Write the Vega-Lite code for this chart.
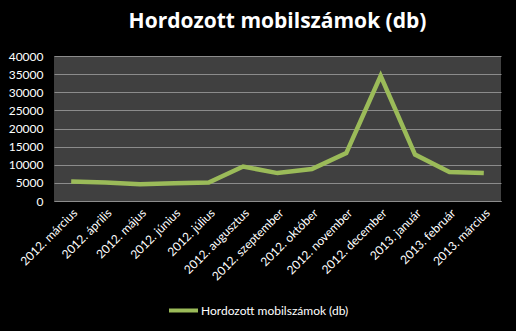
{
  "$schema": "https://vega.github.io/schema/vega-lite/v6.json",
  "autosize": {"type": "none"},
  "width": 447,
  "height": 145,
  "padding": {"left": 54, "top": 56, "right": 15, "bottom": 130},
  "background": "#000000",
  "title": {
    "text": "Hordozott mobilszámok (db)",
    "font": "Open Sans",
    "fontSize": 21,
    "fontWeight": "bold",
    "color": "#ffffff",
    "anchor": "middle",
    "frame": "group",
    "offset": 18
  },
  "config": {
    "view": {"fill": "#404040", "stroke": null},
    "font": "Lato"
  },
  "data": {
    "values": [
      {"honap": "2012. március", "db": 5400},
      {"honap": "2012. április", "db": 5100},
      {"honap": "2012. május", "db": 4600},
      {"honap": "2012. június", "db": 4900},
      {"honap": "2012. július", "db": 5100},
      {"honap": "2012. augusztus", "db": 9500},
      {"honap": "2012. szeptember", "db": 7700},
      {"honap": "2012. október", "db": 8800},
      {"honap": "2012. november", "db": 13200},
      {"honap": "2012. december", "db": 34500},
      {"honap": "2013. január", "db": 12800},
      {"honap": "2013. február", "db": 8000},
      {"honap": "2013. március", "db": 7700}
    ]
  },
  "mark": {"type": "line", "strokeWidth": 4.5, "strokeJoin": "miter"},
  "encoding": {
    "x": {
      "field": "honap",
      "type": "ordinal",
      "sort": null,
      "scale": {"type": "point", "padding": 0.5},
      "axis": {
        "title": null,
        "labelAngle": -45,
        "labelAlign": "right",
        "labelBaseline": "top",
        "labelColor": "#ffffff",
        "labelFontSize": 12,
        "labelPadding": 6,
        "ticks": false,
        "domainColor": "#8c8c8c",
        "domainWidth": 1,
        "grid": false
      }
    },
    "y": {
      "field": "db",
      "type": "quantitative",
      "scale": {"domain": [0, 40000], "nice": false},
      "axis": {
        "title": null,
        "values": [0, 5000, 10000, 15000, 20000, 25000, 30000, 35000, 40000],
        "format": "d",
        "labelColor": "#ffffff",
        "labelFontSize": 12,
        "labelPadding": 11,
        "ticks": false,
        "domain": false,
        "gridColor": "#8c8c8c",
        "gridWidth": 1
      }
    },
    "color": {
      "datum": "Hordozott mobilszámok (db)",
      "scale": {"range": ["#9BBB59"]},
      "legend": {
        "title": null,
        "orient": "none",
        "legendX": 113,
        "legendY": 238,
        "padding": 0,
        "symbolType": "stroke",
        "symbolSize": 841,
        "symbolStrokeWidth": 4,
        "labelColor": "#ffffff",
        "labelFontSize": 12,
        "labelOffset": 1
      }
    }
  }
}
